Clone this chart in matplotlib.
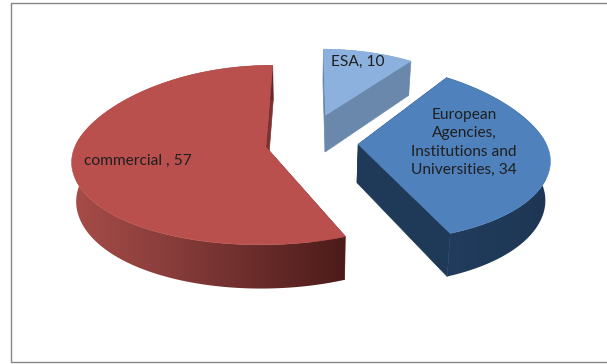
import numpy as np
import matplotlib
matplotlib.use("Agg")
import matplotlib.pyplot as plt
from matplotlib.colors import LinearSegmentedColormap
from matplotlib.patches import Polygon

# Slice data
labels = ["commercial , 57", "European\nAgencies,\nInstitutions and\nUniversities, 34", "ESA, 10"]
values = [57, 34, 10]

# Pie layout, in pixels of a 607x364 canvas
START_ANGLE = 89.5
CX, CY = 300.0, 147.0
RX, RY = 195.0, 89.0
K_FAR, K_NEAR = 0.19, 0.14
KY = 0.09
DEPTH = 38.5
DEPTH_K = 0.12
BASE_SHRINK = 0.98
explode = [(-0.175, 0.0), (0.30, 0.03), (0.14, 0.37)]
radius = [(0.98, 1.0), (0.97, 1.0), (0.92, 0.85)]

top_colors = ["#b9504d", "#4f81bd", "#8cb1df"]
side_ramps = [["#a64b48", "#8a3e3c", "#6a2c2a", "#4c1c1a"],
              ["#213c5c", "#1f3a59", "#1e3653"],
              ["#6a88ab", "#6a88ab"]]
face_colors = ["#7a3331", "#1f3a59", "#6a88ab"]
label_xy = [(84, 161), (464, 142.5), (331, 62)]
label_align = ["left", "center", "left"]
TEXT_COLOR = "#1f1f1f"
FRAME_COLOR = "#858585"


def project(x, y):
    """Perspective mapping of pie-plane coordinates onto canvas pixels."""
    x, y = np.asarray(x, float), np.asarray(y, float)
    k = (K_FAR + K_NEAR) / 2 + (K_FAR - K_NEAR) / 2 * np.tanh(3 * y)
    return CX + RX * x / (1 + k * y), CY - RY * y / (1 + KY * y)


def base_of(u, v, y):
    """Canvas position of the lower rim below a point on the upper face."""
    return CX + (u - CX) * BASE_SHRINK, v + DEPTH / (1 + DEPTH_K * y)


def draw_slice(ax, t0, t1, offset, r, top, ramp, face, z):
    ox, oy = offset
    t = np.radians(np.linspace(t0, t1, 240))
    x, y = ox + r[0] * np.cos(t), oy + r[1] * np.sin(t)
    u, v = project(x, y)
    ub, vb = base_of(u, v, y)

    au, av = project(ox, oy)
    aub, avb = base_of(au, av, oy)

    # Flat radial walls sit behind the curved wall and the upper face
    for i in (0, -1):
        ax.fill([au, u[i], ub[i], aub], [av, v[i], vb[i], avb],
                color=face, lw=0.5, zorder=z)

    # Curved wall, shaded left to right with a clipped gradient
    cmap = LinearSegmentedColormap.from_list("wall", ramp)
    wall = Polygon(np.c_[np.r_[u, ub[::-1]], np.r_[v, vb[::-1]]], closed=True,
                   transform=ax.transData, fc="none", ec="none")
    ax.add_patch(wall)
    left, right = ub.min(), max(ub.max(), ub.min() + 1)
    shade = ax.imshow(np.linspace(0, 1, 256)[None, :], cmap=cmap, vmin=0, vmax=1,
                      extent=(left, right, np.max(vb) + 2, np.min(v) - 2),
                      aspect="auto", interpolation="bilinear", zorder=z + 0.1)
    shade.set_clip_path(wall)

    # Upper face
    ax.fill(np.r_[au, u], np.r_[av, v], color=top, lw=0.4, zorder=z + 0.2)


plt.rcParams["font.family"] = ["Lato", "DejaVu Sans"]
fig = plt.figure(figsize=(6.07, 3.64), dpi=100, facecolor="white")
ax = fig.add_axes([0, 0, 1, 1])

# Outer frame: left, top and bottom rules only
ax.plot([607, 10.5, 10.5, 607], [2.5, 2.5, 362, 362], color=FRAME_COLOR, lw=1.0, zorder=1)

# Angles run counter-clockwise from the start angle, slice by slice
sweeps = np.array(values) / sum(values) * 360.0
starts = START_ANGLE + np.r_[0, np.cumsum(sweeps)[:-1]]

# Painted back to front
for idx, z in zip([2, 1, 0], [2, 3, 4]):
    draw_slice(ax, starts[idx], starts[idx] + sweeps[idx], explode[idx], radius[idx],
               top_colors[idx], side_ramps[idx], face_colors[idx], z)

for text, (tx, ty), ha in zip(labels, label_xy, label_align):
    ax.text(tx, ty, text, ha=ha, va="center", ma="center", fontsize=11.2,
            color=TEXT_COLOR, linespacing=1.38, zorder=10)

ax.set_xlim(0, 607)
ax.set_ylim(364, 0)
ax.axis("off")

fig.savefig("out.png", dpi=100)
